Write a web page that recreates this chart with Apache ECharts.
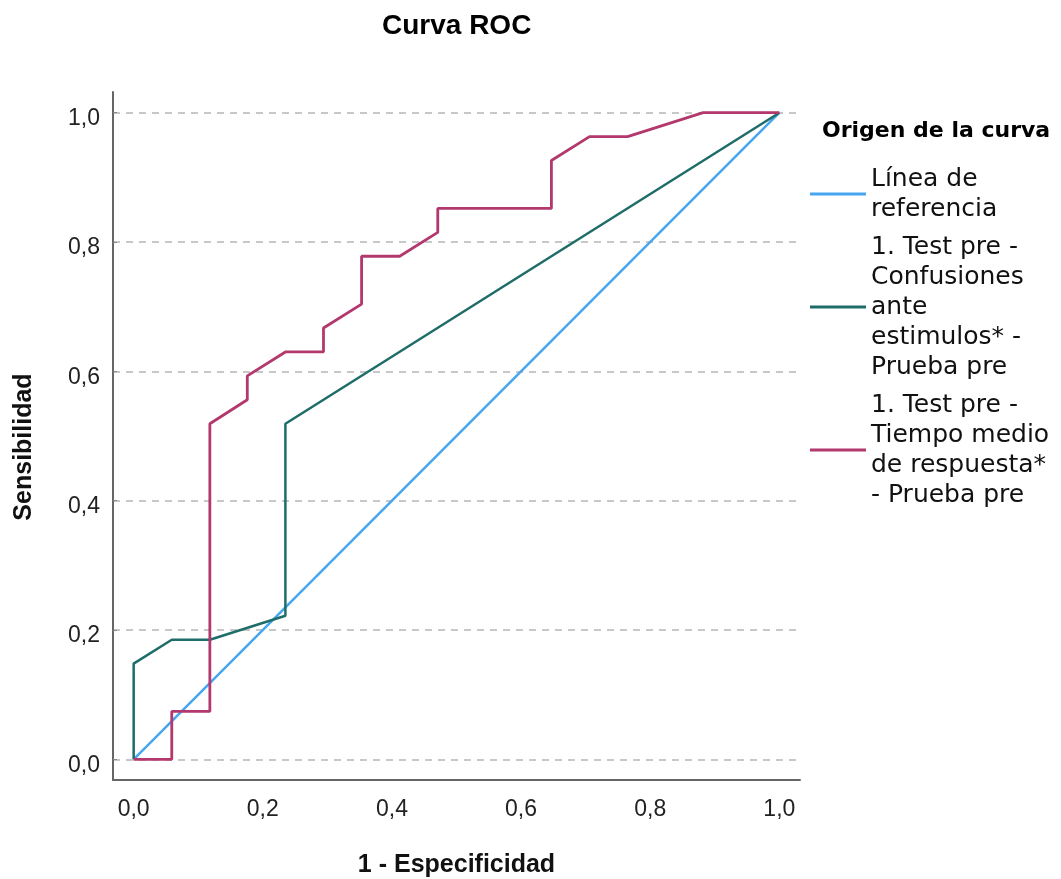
<!DOCTYPE html>
<html>
<head>
<meta charset="utf-8">
<script src="https://cdn.jsdelivr.net/npm/echarts@6/dist/echarts.min.js"></script>
<style>
html,body{margin:0;padding:0;background:#fff;}
#chart{width:1061px;height:879px;}
</style>
</head>
<body>
<div id="chart"></div>
<script>
// ---- data ----
const tickValues = [0, 0.2, 0.4, 0.6, 0.8, 1.0];
const tickLabels = ['0,0', '0,2', '0,4', '0,6', '0,8', '1,0'];

const seriesNames = [
  'Línea de\nreferencia',
  '1. Test pre -\nConfusiones\nante\nestimulos* -\nPrueba pre',
  '1. Test pre -\nTiempo medio\nde respuesta*\n- Prueba pre'
];

const refX = [0, 1];
const refY = [0, 1];

const confX = [0, 0, 0.059, 0.118, 0.235, 0.235, 1];
const confY = [0, 0.148, 0.185, 0.185, 0.222, 0.519, 1];

const tiempoX = [0, 0.059, 0.059, 0.118, 0.118, 0.176, 0.176, 0.235, 0.294, 0.294, 0.353, 0.353, 0.412, 0.471, 0.471, 0.647, 0.647, 0.706, 0.765, 0.882, 1];
const tiempoY = [0, 0, 0.074, 0.074, 0.519, 0.556, 0.593, 0.630, 0.630, 0.667, 0.704, 0.778, 0.778, 0.815, 0.852, 0.852, 0.926, 0.963, 0.963, 1, 1];

const zip = (xs, ys) => xs.map((x, i) => [x, ys[i]]);

function fmt(v) {
  for (let i = 0; i < tickValues.length; i++) {
    if (Math.abs(v - tickValues[i]) < 1e-6) return tickLabels[i];
  }
  return '';
}

const chart = echarts.init(document.getElementById('chart'), null, {renderer: 'canvas'});

const axisLineStyle = {color: '#666', width: 2};

chart.setOption({
  animation: false,
  backgroundColor: '#ffffff',
  title: [
    {
      text: 'Curva ROC',
      left: 382, top: 12,
      padding: 0,
      textStyle: {fontFamily: 'Liberation Sans', fontWeight: 'bold', fontSize: 28, color: '#000'}
    },
    {
      text: 'Origen de la curva',
      left: 822, top: 120,
      padding: 0,
      textStyle: {fontFamily: 'DejaVu Sans', fontWeight: 'bold', fontSize: 22, color: '#000'}
    }
  ],
  legend: {
    orient: 'vertical',
    left: 810, top: 164,
    padding: 0,
    itemWidth: 56, itemHeight: 3,
    itemGap: 8,
    icon: 'rect',
    selectedMode: false,
    textStyle: {fontFamily: 'DejaVu Sans', fontSize: 25, color: '#111', lineHeight: 30},
    data: seriesNames
  },
  grid: {left: 113, right: 261, top: 92, bottom: 99, containLabel: false, outerBoundsMode: 'none'},
  xAxis: {
    type: 'value',
    min: -0.032, max: 1.032,
    name: '1 - Especificidad',
    nameLocation: 'middle',
    nameGap: 73,
    nameTextStyle: {fontFamily: 'Liberation Sans', fontWeight: 'bold', fontSize: 25, color: '#111'},
    axisLine: {show: true, onZero: false, lineStyle: axisLineStyle},
    axisTick: {show: false},
    splitLine: {show: false},
    axisLabel: {
      customValues: tickValues,
      formatter: fmt,
      margin: 18,
      fontFamily: 'Liberation Sans', fontSize: 23, color: '#222'
    }
  },
  yAxis: {
    type: 'value',
    min: -0.032, max: 1.032,
    name: 'Sensibilidad',
    nameLocation: 'middle',
    nameGap: 76,
    nameRotate: 90,
    nameTextStyle: {fontFamily: 'Liberation Sans', fontWeight: 'bold', fontSize: 25, color: '#111', padding: [0, 0, 0, -22]},
    axisLine: {show: true, onZero: false, lineStyle: axisLineStyle},
    axisTick: {show: true, inside: true, length: 4, customValues: tickValues, lineStyle: {color: '#888', width: 1}},
    splitLine: {
      show: true, showMinLine: true, showMaxLine: true,
      lineStyle: {color: '#c8c8c8', width: 2, type: [7, 6]}
    },
    axisLabel: {
      customValues: tickValues,
      formatter: fmt,
      margin: 13,
      verticalAlign: 'top',
      lineHeight: 12,
      fontFamily: 'Liberation Sans', fontSize: 23, color: '#222'
    }
  },
  series: [
    {
      name: seriesNames[0], type: 'line', data: zip(refX, refY),
      symbol: 'none', color: '#47a6ef',
      lineStyle: {width: 2.5, color: '#47a6ef'}, z: 2
    },
    {
      name: seriesNames[1], type: 'line', data: zip(confX, confY),
      symbol: 'none', color: '#1f6d68',
      lineStyle: {width: 2.5, color: '#1f6d68'}, z: 3
    },
    {
      name: seriesNames[2], type: 'line', data: zip(tiempoX, tiempoY),
      symbol: 'none', color: '#b2386d',
      lineStyle: {width: 2.8, color: '#b2386d'}, z: 4
    }
  ]
});
</script>
</body>
</html>
